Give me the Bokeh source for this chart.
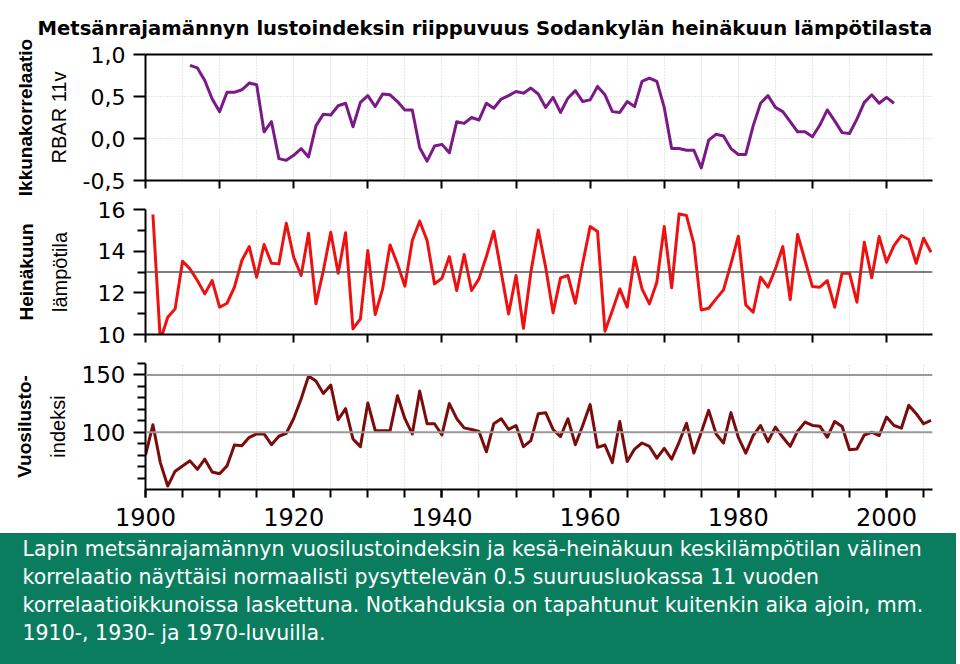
from bokeh.plotting import figure
from bokeh.layouts import column
from bokeh.models import Range1d, FixedTicker, LinearAxis, Span, CustomJSTickFormatter, Title
from bokeh.embed import file_html
from bokeh.resources import INLINE

title_text = "Metsänrajamännyn lustoindeksin riippuvuus Sodankylän heinäkuun lämpötilasta"

# Window correlation (RBAR, 11-year window)
rbar_years = list(range(1906, 2002))
rbar = [0.87, 0.84, 0.69, 0.47, 0.32,
        0.55, 0.55, 0.58, 0.66, 0.64,
        0.08, 0.20, -0.24, -0.26, -0.20,
        -0.12, -0.22, 0.15, 0.29, 0.28,
        0.39, 0.42, 0.14, 0.43, 0.51,
        0.38, 0.53, 0.52, 0.44, 0.34,
        0.34, -0.11, -0.27, -0.09, -0.07,
        -0.17, 0.20, 0.18, 0.25, 0.22,
        0.42, 0.36, 0.47, 0.51, 0.56,
        0.54, 0.60, 0.53, 0.37, 0.49,
        0.31, 0.48, 0.57, 0.44, 0.46,
        0.62, 0.52, 0.32, 0.31, 0.44,
        0.38, 0.68, 0.72, 0.68, 0.37,
        -0.12, -0.12, -0.14, -0.14, -0.35,
        -0.02, 0.05, 0.03, -0.12, -0.19,
        -0.19, 0.15, 0.42, 0.51, 0.37,
        0.32, 0.20, 0.08, 0.08, 0.02,
        0.16, 0.34, 0.21, 0.07, 0.06,
        0.23, 0.43, 0.52, 0.42, 0.49,
        0.42]

# July temperature, Sodankylä
temp_years = list(range(1901, 2007))
temp = [15.76, 9.71, 10.83, 11.23, 13.52,
        13.15, 12.59, 11.95, 12.59, 11.31,
        11.50, 12.27, 13.55, 14.22, 12.75,
        14.32, 13.42, 13.39, 15.34, 13.71,
        12.83, 14.86, 11.47, 13.07, 14.91,
        12.94, 14.88, 10.27, 10.75, 14.03,
        10.96, 12.19, 14.30, 13.39, 12.32,
        14.51, 15.44, 14.51, 12.43, 12.70,
        13.74, 12.11, 13.84, 12.11, 12.67,
        13.74, 14.96, 12.99, 10.99, 12.83,
        10.30, 12.99, 15.02, 13.23, 11.04,
        12.72, 12.83, 11.50, 13.42, 15.18,
        14.94, 10.16, 11.15, 12.19, 11.31,
        13.71, 12.19, 11.47, 12.51, 15.18,
        12.24, 15.79, 15.71, 14.35, 11.18,
        11.26, 11.71, 12.14, 13.39, 14.72,
        11.42, 11.07, 12.75, 12.27, 13.15,
        14.22, 11.68, 14.80, 13.55, 12.30,
        12.27, 12.59, 11.31, 12.94, 12.94,
        11.55, 14.43, 12.72, 14.70, 13.47,
        14.27, 14.75, 14.56, 13.42, 14.62,
        13.95]

# Annual ring-width index
index_years = list(range(1900, 2007))
ring_index = [80, 106.5, 73.5, 53, 66,
              70.6, 75, 67.6, 76.5, 65.3,
              63.8, 70.6, 88.8, 88.2, 95.6,
              98.5, 98.5, 89.1, 96.5, 99.1,
              112, 129, 149, 144.7, 133.8,
              141.2, 110.9, 120.6, 94.1, 87.4,
              125.6, 101.5, 101.2, 101.2, 131.8,
              111.8, 98.5, 135.9, 107.4, 107.4,
              97.6, 125, 111.8, 103.8, 102.4,
              100.6, 82.9, 107.4, 111.8, 102.4,
              105.9, 87.4, 92.6, 116.2, 117.1,
              102.4, 96.2, 111.8, 89.1, 105.9,
              124.1, 86.8, 88.8, 73.5, 109.4,
              74.4, 85.3, 90.6, 87.6, 77.4,
              85.9, 76.5, 91.2, 107.9, 81.8,
              100, 119.1, 98.5, 90.6, 117.1,
              95.6, 81.8, 97.1, 105.9, 91.8,
              104.4, 95.6, 87.6, 100.9, 108.8,
              105.9, 105.3, 95.6, 109.4, 105,
              84.7, 85.3, 97.6, 100, 97.1,
              113.2, 105.9, 103.5, 123.5, 116.2,
              107.4, 110.3]

rbar_ticks = [-0.5, 0.0, 0.5, 1.0]
temp_ticks = [10, 12, 14, 16]
temp_minor = [11, 13, 15]
temp_ref = 13
index_ticks = [100, 150]
index_minor = [60, 70, 80, 90, 110, 120, 130, 140, 160]
index_refs = [100, 150]
year_labels = [1900, 1920, 1940, 1960, 1980, 2000]

notes = [
    "Lapin metsänrajamännyn vuosilustoindeksin ja  kesä-heinäkuun keskilämpötilan välinen",
    "korrelaatio näyttäisi normaalisti pysyttelevän 0.5 suuruusluokassa 11 vuoden",
    "korrelaatioikkunoissa laskettuna. Notkahduksia on  tapahtunut kuitenkin aika ajoin, mm.",
    "1910-, 1930- ja 1970-luvuilla.",
]

W = 956
FRAME_LEFT = 145
FRAME_W = 787
FONT = "Liberation Sans"
NUMFONT = "DejaVu Sans"
X0, X1 = 1900, 2006.2


def panel(height, top, bottom, y0, y1, inner_label, outer_label, inner_standoff):
    p = figure(width=W, height=height, x_range=Range1d(X0, X1), y_range=Range1d(y0, y1),
               output_backend="svg", toolbar_location=None,
               min_border_left=FRAME_LEFT, min_border_right=W - FRAME_LEFT - FRAME_W,
               min_border_top=top, min_border_bottom=bottom)
    p.outline_line_color = None
    p.xgrid.ticker = FixedTicker(ticks=list(range(1905, 2006, 5)))
    p.xgrid.grid_line_color = "#b8d8c4"
    p.xgrid.grid_line_dash = "1 2"
    p.xgrid.grid_line_width = 1
    p.ygrid.grid_line_color = None
    for ax in (p.xaxis[0], p.yaxis[0]):
        ax.axis_line_width = 2
        ax.axis_line_color = "black"
        ax.major_tick_line_width = 2
        ax.minor_tick_line_width = 2
        ax.major_tick_in = 0
        ax.minor_tick_in = 0
        ax.major_label_text_color = "black"
        ax.axis_label_text_font = FONT
        ax.axis_label_text_font_style = "normal"
        ax.axis_label_text_color = "black"
    xa = p.xaxis[0]
    xa.major_tick_out = 8
    xa.minor_tick_out = 0
    xa.ticker = FixedTicker(ticks=list(range(1900, 2010, 10)))
    xa.major_label_text_font_size = "1px"
    xa.major_label_text_color = None
    xa.major_label_standoff = 0
    ya = p.yaxis[0]
    ya.major_tick_out = 12
    ya.minor_tick_out = 8
    ya.major_label_text_font = NUMFONT
    ya.major_label_text_font_size = "22px"
    ya.major_label_standoff = 8
    ya.axis_label = inner_label
    ya.axis_label_text_font_size = "20px"
    ya.axis_label_standoff = inner_standoff
    outer = LinearAxis(ticker=FixedTicker(ticks=[]), axis_line_color=None,
                       major_tick_line_color=None, minor_tick_line_color=None,
                       major_tick_out=0, minor_tick_out=0,
                       major_label_text_font_size="1px", major_label_text_color=None,
                       major_label_standoff=0,
                       axis_label=outer_label, axis_label_text_font=FONT,
                       axis_label_text_font_style="bold", axis_label_text_font_size="19px",
                       axis_label_text_color="black", axis_label_standoff=9)
    p.add_layout(outer, "left")
    return p


# Panel 1: window correlation
p1 = panel(199, 54, 19, -0.5, 1.0, "RBAR 11v", "Ikkunakorrelaatio", 10)
p1.title.text = title_text
p1.title.text_font = "DejaVu Sans"
p1.title.text_font_style = "bold"
p1.title.text_font_size = "19.6px"
p1.title.text_color = "black"
p1.title.align = "left"
p1.title.vertical_align = "top"
p1.title.offset = -108
p1.title.standoff = 26
p1.ygrid.ticker = FixedTicker(ticks=[0.0, 0.5])
p1.ygrid.grid_line_color = "#c4d4c8"
p1.ygrid.grid_line_dash = "1 2"
p1.yaxis[0].ticker = FixedTicker(ticks=rbar_ticks)
p1.yaxis[0].formatter = CustomJSTickFormatter(code="return tick.toFixed(1).replace('.', ',');")
top_line = LinearAxis(ticker=FixedTicker(ticks=[]), axis_line_width=2, axis_line_color="black",
                      major_tick_out=0, major_label_text_font_size="1px",
                      major_label_text_color=None, major_label_standoff=0)
p1.add_layout(top_line, "above")
p1.line(rbar_years, rbar, line_color="#7b1a86", line_width=3, line_join="round")

# Panel 2: July temperature
p2 = panel(149, 10, 14, 10, 16, "lämpötila", "Heinäkuun", 24)
p2.yaxis[0].ticker = FixedTicker(ticks=temp_ticks, minor_ticks=temp_minor)
p2.add_layout(Span(location=temp_ref, dimension="width", line_color="#555555", line_width=1.5))
p2.line(temp_years, temp, line_color="#ee1111", line_width=3, line_join="round")

# Panel 3: ring-width index
p3 = panel(185, 15, 44, 50, 160, "indeksi", "Vuosilusto-", 10)
p3.yaxis[0].ticker = FixedTicker(ticks=index_ticks, minor_ticks=index_minor)
p3.yaxis[0].major_label_text_font_size = "23px"
xa3 = p3.xaxis[0]
xa3.ticker = FixedTicker(ticks=year_labels, minor_ticks=list(range(1900, 2010, 5)))
xa3.minor_tick_out = 8
xa3.major_label_text_font = NUMFONT
xa3.major_label_text_font_size = "24px"
xa3.major_label_text_color = "black"
xa3.major_label_standoff = 10
for r in index_refs:
    p3.add_layout(Span(location=r, dimension="width", line_color="#999999", line_width=2))
p3.line(index_years, ring_index, line_color="#7a0c0c", line_width=3, line_join="round")

# Notes box: each line is a title row stacked above a thin frame
GREEN = "#0b7d5f"
p4 = figure(width=W, height=131, x_range=Range1d(0, 1), y_range=Range1d(0, 1),
            output_backend="svg", toolbar_location=None,
            min_border_left=FRAME_LEFT, min_border_right=W - FRAME_LEFT - FRAME_W,
            min_border_top=0, min_border_bottom=0,
            styles={"background-color": GREEN})
p4.axis.visible = False
p4.grid.visible = False
p4.outline_line_color = None
p4.background_fill_color = None
p4.border_fill_color = None
for line in reversed(notes):
    p4.add_layout(Title(text=line, align="left", offset=22 - FRAME_LEFT, standoff=2,
                        text_color="white", text_font=NUMFONT, text_font_size="20.5px",
                        text_font_style="normal"), "above")

layout = column(p1, p2, p3, p4, spacing=0)
open("out.html", "w").write(file_html(layout, INLINE))
